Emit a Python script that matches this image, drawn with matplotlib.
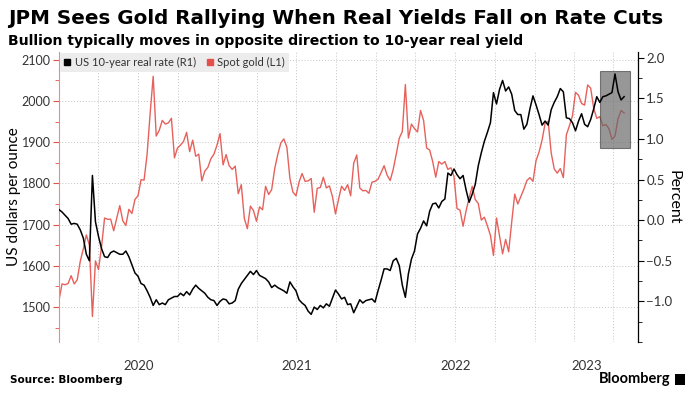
import numpy as np
import pandas as pd
import matplotlib
matplotlib.use('Agg')
import matplotlib.pyplot as plt
import matplotlib.dates as mdates
from matplotlib.patches import Rectangle
from matplotlib.lines import Line2D
from matplotlib.ticker import MultipleLocator, FixedLocator, FixedFormatter

# Weekly readings (Wednesdays), spot gold in USD/oz (left axis)
gold_2020 = [1517, 1556, 1554, 1557, 1576, 1556, 1566, 1611, 1641, 1675,
             1650, 1477, 1612, 1591, 1646, 1716, 1713, 1713, 1685, 1715,
             1746, 1709, 1698, 1737, 1727, 1761, 1770, 1809, 1808, 1871,
             1970, 2060, 1915, 1929, 1953, 1944, 1947, 1958, 1862, 1886,
             1893, 1902, 1924, 1877, 1905, 1866, 1871, 1806, 1830, 1839,
             1860, 1871, 1893]
gold_2021 = [1921, 1845, 1870, 1843, 1834, 1842, 1775, 1797, 1715, 1690,
             1745, 1734, 1708, 1743, 1736, 1793, 1773, 1785, 1836, 1870,
             1898, 1908, 1888, 1812, 1779, 1770, 1803, 1824, 1805, 1806,
             1812, 1730, 1788, 1790, 1815, 1789, 1794, 1768, 1726, 1761,
             1793, 1783, 1797, 1770, 1849, 1869, 1789, 1782, 1783, 1776,
             1803, 1805]
gold_2022 = [1810, 1826, 1843, 1820, 1807, 1834, 1871, 1910, 1926, 2040,
             1910, 1944, 1933, 1925, 1977, 1953, 1886, 1881, 1853, 1815,
             1853, 1847, 1853, 1834, 1838, 1817, 1739, 1735, 1696, 1734,
             1765, 1793, 1761, 1751, 1711, 1718, 1697, 1674, 1625, 1716,
             1673, 1629, 1664, 1634, 1706, 1774, 1750, 1768, 1786, 1807,
             1814, 1805]
gold_2023 = [1855, 1876, 1905, 1946, 1951, 1874, 1835, 1825, 1836, 1814,
             1918, 1940, 1964, 2021, 2014, 1994, 1990, 2039, 2031, 1982,
             1958, 1962, 1940, 1943, 1933, 1907, 1915, 1957, 1977, 1971]

# US 10-year real rate in percent (right axis)
rate_2020 = [0.13, 0.10, 0.06, 0.02, -0.05, -0.04, -0.05, -0.12, -0.22, -0.42,
             -0.50, 0.55, -0.02, -0.20, -0.35, -0.45, -0.46, -0.40, -0.38, -0.40,
             -0.42, -0.42, -0.38, -0.45, -0.55, -0.65, -0.69, -0.78, -0.80, -0.87,
             -0.95, -1.05, -0.98, -1.04, -1.02, -1.04, -0.98, -0.96, -0.94, -0.94,
             -0.90, -0.93, -0.88, -0.92, -0.85, -0.80, -0.84, -0.87, -0.90, -0.95,
             -0.98, -0.99, -1.05]
rate_2021 = [-1.00, -0.97, -0.98, -1.03, -1.02, -0.99, -0.85, -0.78, -0.73, -0.68,
             -0.63, -0.67, -0.62, -0.68, -0.70, -0.72, -0.76, -0.83, -0.80, -0.83,
             -0.85, -0.87, -0.90, -0.76, -0.82, -0.87, -0.98, -1.02, -1.05, -1.12,
             -1.16, -1.07, -1.10, -1.05, -1.08, -1.03, -1.06, -0.96, -0.86, -0.91,
             -0.97, -0.95, -1.04, -1.03, -1.14, -1.06, -0.98, -1.02, -0.99, -0.98,
             -0.97, -1.01]
rate_2022 = [-0.87, -0.74, -0.60, -0.60, -0.62, -0.50, -0.47, -0.56, -0.80, -0.95,
             -0.66, -0.48, -0.38, -0.17, -0.10, -0.01, -0.07, 0.11, 0.20, 0.21,
             0.15, 0.23, 0.26, 0.58, 0.55, 0.63, 0.56, 0.51, 0.55, 0.37,
             0.22, 0.32, 0.44, 0.67, 0.83, 0.97, 1.08, 1.20, 1.57, 1.43,
             1.61, 1.72, 1.59, 1.64, 1.55, 1.35, 1.30, 1.30, 1.12, 1.18,
             1.37, 1.53]
rate_2023 = [1.42, 1.30, 1.17, 1.22, 1.17, 1.36, 1.45, 1.52, 1.62, 1.58,
             1.26, 1.25, 1.20, 1.10, 1.22, 1.31, 1.18, 1.15, 1.24, 1.37,
             1.52, 1.45, 1.52, 1.53, 1.55, 1.57, 1.80, 1.58, 1.48, 1.52]

year_labels = ['2020', '2021', '2022', '2023']
highlight_start, highlight_end = '2023-06-01', '2023-08-09'
highlight_low, highlight_high = 0.89, 1.84

gold = gold_2020 + gold_2021 + gold_2022 + gold_2023
rate = rate_2020 + rate_2021 + rate_2022 + rate_2023
dates = pd.date_range('2020-01-01', periods=len(gold), freq='7D')

RED = '#e4504a'
TXT = '#333333'
plt.rcParams['font.family'] = ['Lato', 'DejaVu Sans']

W, H = 692, 394
fig = plt.figure(figsize=(W / 100, H / 100), dpi=100)
ax = fig.add_axes([59 / W, 52 / H, (638 - 59) / W, 290 / H])
ax2 = ax.twinx()

ax.plot(dates, gold, color=RED, lw=1.0, alpha=0.9, zorder=2)
ax2.plot(dates, rate, color='black', lw=1.1, zorder=3)

xmin, xmax = pd.Timestamp('2020-01-01'), pd.Timestamp('2023-08-27')
ax.set_xlim(xmin, xmax)
ax.set_ylim(1415, 2119)
ax2.set_ylim(-1.5, 2.07)

# x axis: quarterly gridlines, year labels centred in visible year spans
ax.xaxis.set_major_locator(mdates.MonthLocator(bymonth=[1, 4, 7, 10]))
ax.xaxis.set_major_formatter(plt.NullFormatter())
centres = []
for y in year_labels:
    a = max(pd.Timestamp(y + '-01-01'), xmin)
    b = min(pd.Timestamp(str(int(y) + 1) + '-01-01'), xmax)
    centres.append(mdates.date2num(a) + (mdates.date2num(b) - mdates.date2num(a)) / 2)
ax.xaxis.set_minor_locator(FixedLocator(centres))
ax.xaxis.set_minor_formatter(FixedFormatter(year_labels))
ax.tick_params(axis='x', which='both', length=0, pad=13, labelsize=9.5, labelcolor=TXT)

ax.yaxis.set_major_locator(MultipleLocator(100))
ax.yaxis.set_minor_locator(MultipleLocator(50))
ax.tick_params(axis='y', which='both', color=RED, labelcolor=TXT, labelsize=9, pad=2)
ax.tick_params(axis='y', which='major', length=4)
ax.tick_params(axis='y', which='minor', length=3)

ax2.yaxis.set_major_locator(FixedLocator([-1.0, -0.5, 0.0, 0.5, 1.0, 1.5, 2.0]))
ax2.yaxis.set_minor_locator(MultipleLocator(0.25))
ax2.tick_params(axis='y', which='both', color='black', labelcolor=TXT, labelsize=9.5, pad=2)
ax2.tick_params(axis='y', which='major', length=4)
ax2.tick_params(axis='y', which='minor', length=3)

ax.grid(axis='both', which='major', linestyle=(0, (1, 2)), color='#c4c4c4', lw=0.7)
ax.set_axisbelow(True)

for s in ('top', 'bottom', 'right'):
    ax.spines[s].set_visible(False)
ax.spines['left'].set_color('#ee8a86')
ax.spines['left'].set_linewidth(0.8)
for s in ('top', 'bottom', 'left'):
    ax2.spines[s].set_visible(False)
ax2.spines['right'].set_linewidth(0.9)

ax.set_ylabel('US dollars per ounce', fontsize=11, color='black')
ax.yaxis.set_label_coords(-0.066, 0.5)
ax2.set_ylabel('Percent', fontsize=11.5, color='black', rotation=270, labelpad=6)

# highlight box
x0 = mdates.date2num(pd.Timestamp(highlight_start))
x1 = mdates.date2num(pd.Timestamp(highlight_end))
ax2.add_patch(Rectangle((x0, highlight_low), x1 - x0, highlight_high - highlight_low,
                        facecolor='#666666', alpha=0.68, edgecolor='#444444', lw=0.8, zorder=2))

handles = [Line2D([], [], marker='s', color='black', ls='none', markersize=5),
           Line2D([], [], marker='s', color=RED, ls='none', markersize=5)]
leg = ax2.legend(handles, ['US 10-year real rate (R1)', 'Spot gold (L1)'], ncol=2,
                 loc='upper left', bbox_to_anchor=(0.002, 0.997), borderaxespad=0,
                 frameon=True, fancybox=False, facecolor='#ececec', edgecolor='none',
                 framealpha=1, fontsize=8, handlelength=0.6, handletextpad=0.35,
                 columnspacing=1.0, borderpad=0.35)
leg.set_zorder(10)
for t in leg.get_texts():
    t.set_color(TXT)

bold = ['DejaVu Sans']
fig.text(8 / W, 1 - 19 / H, 'JPM Sees Gold Rallying When Real Yields Fall on Rate Cuts',
         fontsize=14.3, fontweight='bold', family=bold, va='center', ha='left')
fig.text(8 / W, 1 - 41 / H, 'Bullion typically moves in opposite direction to 10-year real yield',
         fontsize=10.1, fontweight='bold', family=bold, va='center', ha='left')
fig.text(10 / W, 1 - 380 / H, 'Source: Bloomberg', fontsize=7.5, fontweight='bold', family=bold,
         va='center', ha='left')
fig.text(670 / W, 1 - 379 / H, 'Bloomberg', fontsize=10.5, fontweight='bold', va='center', ha='right')
fig.add_artist(Rectangle((675 / W, 1 - 385 / H), 10 / W, 11 / H, transform=fig.transFigure,
                         facecolor='black', edgecolor='none'))

fig.savefig('out.png', dpi=100)
